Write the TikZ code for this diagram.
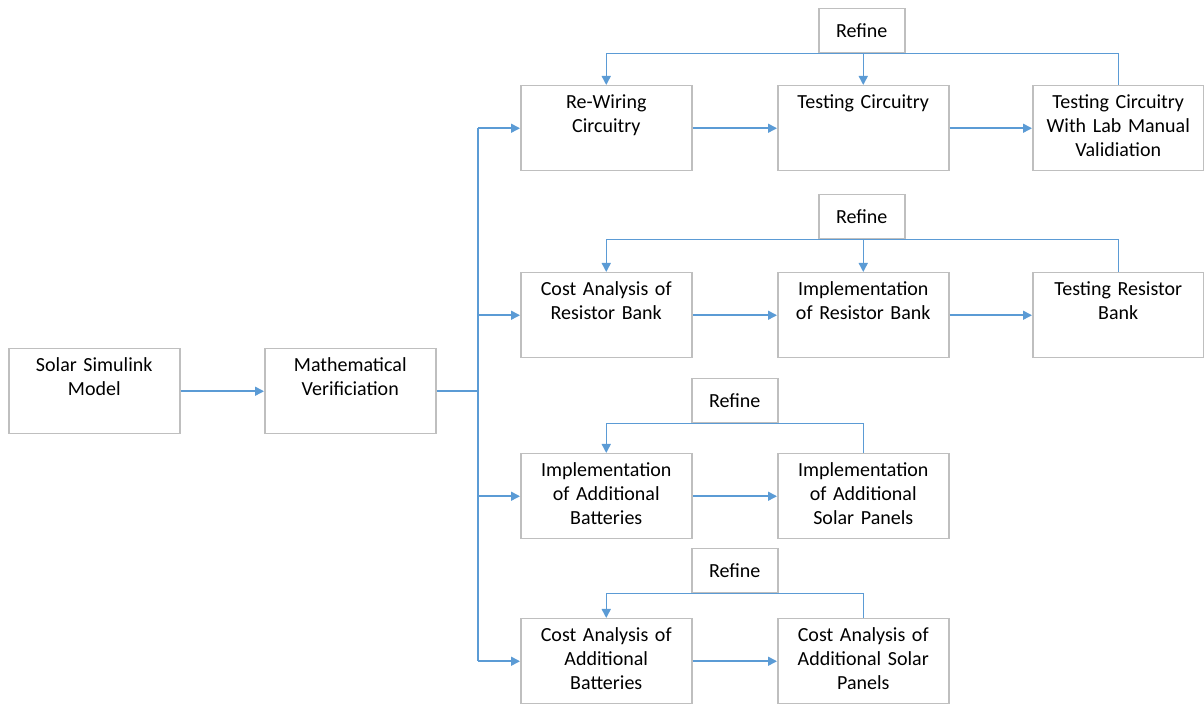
\documentclass[tikz,border=0pt]{standalone}
\usepackage{fontspec}
\setmainfont{Carlito}
\usepackage{xcolor}
\usepackage{tikz}
\usetikzlibrary{arrows.meta}

\definecolor{flowblue}{RGB}{91,155,213}
\definecolor{boxgray}{RGB}{191,191,191}

\begin{document}
\begin{tikzpicture}[x=0.5pt, y=-0.5pt, >={Triangle[length=4.5pt,width=4.5pt]},
    stage/.style={draw=boxgray, line width=0.75pt, inner sep=0pt, anchor=north west,
        text width=85.5pt, align=center, text height=11.5pt, text depth=31pt,
        font=\fontsize{10}{12}\selectfont},
    refine/.style={draw=boxgray, line width=0.75pt, inner sep=0pt, anchor=north west,
        minimum width=43pt, minimum height=22pt, font=\fontsize{10}{12}\selectfont},
    flow/.style={draw=flowblue, line width=0.75pt}]
    \useasboundingbox (0,0) rectangle (1204,704);

    % Start of the chain
    \node[stage] (solar) at (8,348) {Solar Simulink\\Model};
    \node[stage] (math) at (264,348) {Mathematical\\Verificiation};

    % Circuitry row
    \node[stage] (rewire) at (520,85) {Re-Wiring\\Circuitry};
    \node[stage] (testc) at (777,85) {Testing Circuitry};
    \node[stage] (labval) at (1032,85) {Testing Circuitry\\With Lab Manual\\Validiation};
    \node[refine] (refA) at (818,8) {Refine};

    % Resistor bank row
    \node[stage] (costres) at (520,272) {Cost Analysis of\\Resistor Bank};
    \node[stage] (implres) at (777,272) {Implementation\\of Resistor Bank};
    \node[stage] (testres) at (1032,272) {Testing Resistor\\Bank};
    \node[refine] (refB) at (818,194) {Refine};

    % Implementation row
    \node[stage] (implbat) at (520,453) {Implementation\\of Additional\\Batteries};
    \node[stage] (implsol) at (777,453) {Implementation\\of Additional\\Solar Panels};
    \node[refine] (refC) at (691,378) {Refine};

    % Cost row
    \node[stage] (costbat) at (520,618) {Cost Analysis of\\Additional\\Batteries};
    \node[stage] (costsol) at (777,618) {Cost Analysis of\\Additional Solar\\Panels};
    \node[refine] (refD) at (691,548) {Refine};

    % Bus from the verification step
    \coordinate (bus) at (478,390);
    \draw[flow, ->] (solar.east) -- (math.west);
    \draw[flow] (math.east) -- (math.east -| bus);
    \draw[flow] (bus |- rewire.west) -- (bus |- costbat.west);
    \foreach \n in {rewire, costres, implbat, costbat}
        \draw[flow, ->] (bus |- \n.west) -- (\n.west);

    % Arrows along the rows
    \draw[flow, ->] (rewire.east) -- (testc.west);
    \draw[flow, ->] (testc.east) -- (labval.west);
    \draw[flow, ->] (costres.east) -- (implres.west);
    \draw[flow, ->] (implres.east) -- (testres.west);
    \draw[flow, ->] (implbat.east) -- (implsol.west);
    \draw[flow, ->] (costbat.east) -- (costsol.west);

    % Refine loops
    \draw[flow, ->] (labval.north) |- (refA.south) -| (rewire.north);
    \draw[flow, ->] (refA.south -| testc.north) -- (testc.north);
    \draw[flow, ->] (testres.north) |- (refB.south) -| (costres.north);
    \draw[flow, ->] (refB.south -| implres.north) -- (implres.north);
    \draw[flow, ->] (implsol.north) |- (refC.south) -| (implbat.north);
    \draw[flow, ->] (costsol.north) |- (refD.south) -| (costbat.north);
\end{tikzpicture}
\end{document}
